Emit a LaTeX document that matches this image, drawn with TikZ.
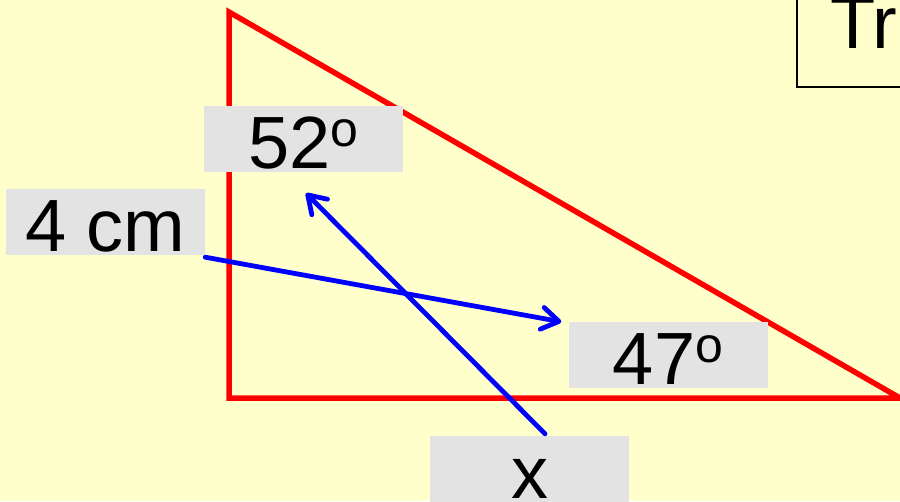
\documentclass[tikz,border=0pt]{standalone}
\usepackage{fontspec}
\setmainfont{Liberation Sans}
\usetikzlibrary{arrows.meta,calc}
\definecolor{bg}{HTML}{FFFFCC}
\definecolor{boxgray}{HTML}{E3E3E3}
\newcommand{\degsup}{\raisebox{22pt}{\fontsize{50}{50}\selectfont o}}
\begin{document}
\begin{tikzpicture}[x=1pt,y=-1pt,
  labelbox/.style={fill=boxgray, minimum width=199pt, inner xsep=0pt, inner ysep=4pt,
    text height=58pt, text depth=0pt, font=\fontsize{74}{80}\selectfont},
  redline/.style={draw=red, line width=5.5pt, line join=miter},
  bluearrow/.style={draw=blue, line width=4.8pt, line cap=round, line join=round,
    -{Straight Barb[length=17pt,width=22pt,line cap=round,line join=round]}}]
\useasboundingbox (0,0) rectangle (900,501);
\clip (0,0) rectangle (900,501);
\fill[bg] (0,0) rectangle (900,501);
% title box
\draw[line width=2.2pt] (797,-10) rectangle (940,87);
\node[anchor=base west, inner sep=0pt, font=\fontsize{74}{80}\selectfont] (title) at (830,48) {Tr};
% triangle
\draw[redline] (229,12) -- (229,398) -- (900,398) -- cycle;
% label boxes
\node[labelbox] (b52) at (303.5,139) {52\degsup};
\node[labelbox] (bcm) at (105.5,222) {4 cm};
\node[labelbox] (b47) at (668,355) {47\degsup};
\node[labelbox] (bx) at (529.5,469) {x};
% arrows
\draw[bluearrow] ([xshift=15.5pt,yshift=2pt]bx.north) -- ([xshift=2.5pt,yshift=-21pt]b52.south);
\draw[bluearrow] ([yshift=-2pt]bcm.south east) -- ([xshift=-7pt]b47.north west);
\end{tikzpicture}
\end{document}
